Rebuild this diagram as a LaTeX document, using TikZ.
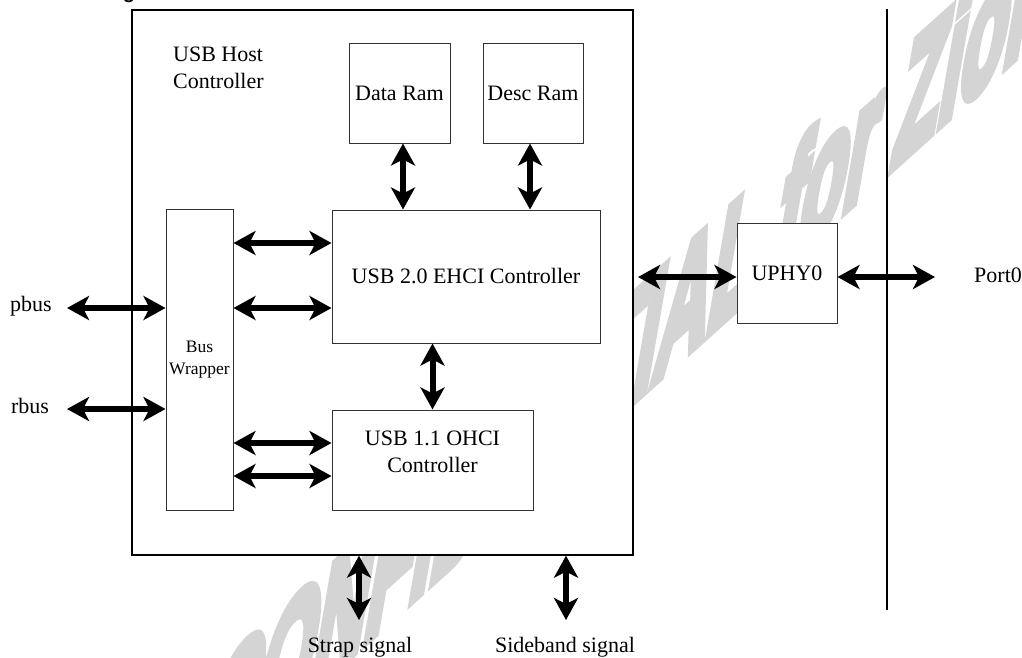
\documentclass[tikz,border=0pt]{standalone}
\usepackage{fontspec}
\setmainfont{Liberation Serif}
\newfontfamily\wmfont{Liberation Sans}
\newfontfamily\wmheavy[FakeBold=8]{Liberation Sans Bold}
\usetikzlibrary{arrows.meta}
\begin{document}
\begin{tikzpicture}[x=1pt,y=-1pt,
  box/.style={draw=black!80, line width=1pt, fill=white, inner sep=0pt,
    font=\fontsize{22}{26}\selectfont, align=center},
  tip/.tip={Stealth[length=22pt,width=24pt,inset=6pt]},
  dbl/.style={line width=6pt, tip-tip},
  lbl/.style={font=\fontsize{22}{27}\selectfont, inner sep=0pt, align=center},
  wm/.style={text=black!17, font=\wmheavy\fontsize{120}{120}\selectfont, inner sep=0pt}]
\useasboundingbox (0,0) rectangle (1022,657);
% watermark (slanted up)
\node[wm, cm={0.619,0.557,0.26,1.5,(0,0)}, anchor=base west] (wmk) at (196,794) {CONFIDENTIAL for Zioncom};
% cut-off heading fragment
\node[font=\wmfont\bfseries\fontsize{20}{20}\selectfont, anchor=base, inner sep=0pt] (hd) at (129,-1.5) {g};
% outer box
\node[draw=black, line width=1.3pt, fill=white, minimum width=501pt, minimum height=545pt, inner sep=0pt] (outer) at (382.5,282.5) {};
\node[lbl, align=left, anchor=west] (host) at (173,68) {USB Host\\Controller};
% inner boxes
\node[box, minimum width=101pt, minimum height=100pt] (dram) at (399.5,93) {Data Ram};
\node[box, minimum width=100pt, minimum height=100pt] (desc) at (533,93) {Desc Ram};
\node[box, minimum width=268pt, minimum height=133pt] (ehci) at (466,276.5) {USB 2.0 EHCI Controller};
\node[box, minimum width=201pt, minimum height=100pt] (ohci) at (432.5,460) {};
\node[lbl] (ohcit) at (432.5,452) {USB 1.1 OHCI\\Controller};
\node[box, minimum width=67pt, minimum height=301pt, font=\fontsize{17.5}{22}\selectfont] (wrap) at (199.5,359.5) {Bus\\Wrapper};
\node[box, minimum width=100pt, minimum height=100pt] (uphy) at (787,273) {UPHY0};
% outside labels
\node[lbl] (pbus) at (31,306) {pbus};
\node[lbl] (rbus) at (30,406) {rbus};
\node[lbl, anchor=west] (port) at (974,275) {Port0};
\node[lbl, anchor=base] (strap) at (360,652) {Strap signal};
\node[lbl, anchor=base] (side) at (565,652) {Sideband signal};
% coordinates
\coordinate (yA) at (0,243);
\coordinate (yB) at (0,308);
\coordinate (yC) at (0,443);
\coordinate (yD) at (0,476);
\coordinate (ps) at (67,308);
\coordinate (rs) at (67,409);
\coordinate (ul) at (638,277);
\coordinate (pe) at (935,277);
\coordinate (st) at (359,620);
\coordinate (sd) at (566,620);
\coordinate (vt) at (887,9);
\coordinate (vb) at (887,610);
% connectors
\draw[dbl] (wrap.east |- yA) -- (ehci.west |- yA);
\draw[dbl] (wrap.east |- yB) -- (ehci.west |- yB);
\draw[dbl] (wrap.east |- yC) -- (ohci.west |- yC);
\draw[dbl] (wrap.east |- yD) -- (ohci.west |- yD);
\draw[dbl] (ps) -- (wrap.west |- ps);
\draw[dbl] (rs) -- (wrap.west |- rs);
\draw[dbl] ([xshift=3.5pt]dram.south) -- ([xshift=3.5pt]dram.south |- ehci.north);
\draw[dbl] ([xshift=-3pt]desc.south) -- ([xshift=-3pt]desc.south |- ehci.north);
\draw[dbl] (ehci.south -| ohci.north) -- (ohci.north);
\draw[dbl] (ul) -- (uphy.west |- ul);
\draw[dbl] (uphy.east |- ul) -- (pe);
\draw[dbl] (outer.south -| st) -- (st);
\draw[dbl] (outer.south -| sd) -- (sd);
\draw[line width=1.5pt] (vt) -- (vb);
\end{tikzpicture}
\end{document}
